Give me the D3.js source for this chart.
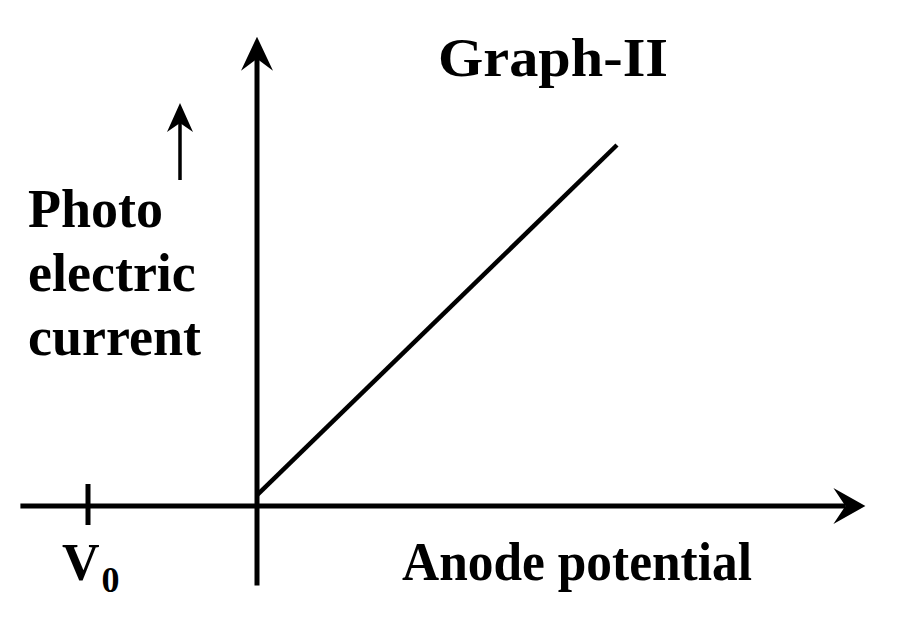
<!DOCTYPE html>
<html>
<head>
<meta charset="utf-8">
<script src="https://cdn.jsdelivr.net/npm/d3@7"></script>
<style>
  html, body { margin: 0; padding: 0; background: #fff; }
  svg { display: block; }
  text { font-family: "Liberation Serif", "Times New Roman", serif; font-weight: bold; fill: #000; }
</style>
</head>
<body>
<svg id="chart" width="900" height="630"></svg>
<script>
// Anode potential in units of |V0|, current in units of the top of the line
const xExtent = [-1.4, 3.6];
const yExtent = [-0.22, 1.3];
const v0Ticks = [-1];
const currentLine = [
  {v: 0, i: 0.03},
  {v: 2.13, i: 1}
];
const yLabelLines = ["Photo", "electric", "current"];
const xLabel = "Anode potential";
const title = "Graph-II";

const svg = d3.select("#chart");

// origin sits at (257, 506), V0 tick at x = 88
const x = d3.scaleLinear().domain([-1, 0]).range([88, 257]);
const y = d3.scaleLinear().domain([0, 1]).range([506, 145]);

/*
 * Notched arrowhead pointing along +x, tip at origin
 */
function arrowPath(len, half, notch) {
  return `M0,0 L${-len},${-half} L${-notch},0 L${-len},${half} Z`;
}

// x axis
svg.append("line")
  .attr("x1", x(xExtent[0]))
  .attr("y1", y(0))
  .attr("x2", x(xExtent[1]) - 20)
  .attr("y2", y(0))
  .style("stroke", "#000")
  .style("stroke-width", "5px");

svg.append("path")
  .attr("d", arrowPath(32, 18, 20))
  .attr("transform", `translate(${x(xExtent[1])},${y(0)})`)
  .style("fill", "#000");

// y axis
svg.append("line")
  .attr("x1", x(0))
  .attr("y1", y(yExtent[0]))
  .attr("x2", x(0))
  .attr("y2", y(yExtent[1]) + 20)
  .style("stroke", "#000")
  .style("stroke-width", "5px");

svg.append("path")
  .attr("d", arrowPath(34, 16, 22))
  .attr("transform", `translate(${x(0)},${y(yExtent[1])}) rotate(-90)`)
  .style("fill", "#000");

// V0 tick
svg.selectAll(".tick")
  .data(v0Ticks)
  .enter()
  .append("line")
  .attr("class", "tick")
  .attr("x1", d => x(d))
  .attr("x2", d => x(d))
  .attr("y1", y(0) - 22)
  .attr("y2", y(0) + 19)
  .style("stroke", "#000")
  .style("stroke-width", "5px");

let v0Label = svg.append("text")
  .attr("x", x(v0Ticks[0]) - 26)
  .attr("y", 580)
  .style("font-size", "52px");
v0Label.append("tspan").text("V");
v0Label.append("tspan")
  .attr("dx", 2)
  .attr("dy", 12)
  .style("font-size", "36px")
  .text("0");

// photo current line
svg.append("path")
  .datum(currentLine)
  .attr("d", d3.line().x(d => x(d.v)).y(d => y(d.i)))
  .style("fill", "none")
  .style("stroke", "#000")
  .style("stroke-width", "4.5px");

// title
svg.append("text")
  .attr("x", 438)
  .attr("y", 76)
  .attr("textLength", 230)
  .attr("lengthAdjust", "spacingAndGlyphs")
  .style("font-size", "54px")
  .text(title);

// y label arrow
svg.append("line")
  .attr("x1", 180)
  .attr("y1", 180)
  .attr("x2", 180)
  .attr("y2", 120)
  .style("stroke", "#000")
  .style("stroke-width", "3.5px");

svg.append("path")
  .attr("d", arrowPath(29, 13, 20))
  .attr("transform", "translate(180,103) rotate(-90)")
  .style("fill", "#000");

// y label
svg.selectAll(".ylabel")
  .data(yLabelLines)
  .enter()
  .append("text")
  .attr("class", "ylabel")
  .attr("x", 28)
  .attr("y", (d, i) => 227 + i * 64)
  .style("font-size", "54px")
  .text(d => d);

// x label
svg.append("text")
  .attr("x", 402)
  .attr("y", 580)
  .attr("textLength", 350)
  .attr("lengthAdjust", "spacingAndGlyphs")
  .style("font-size", "54px")
  .text(xLabel);
</script>
</body>
</html>
